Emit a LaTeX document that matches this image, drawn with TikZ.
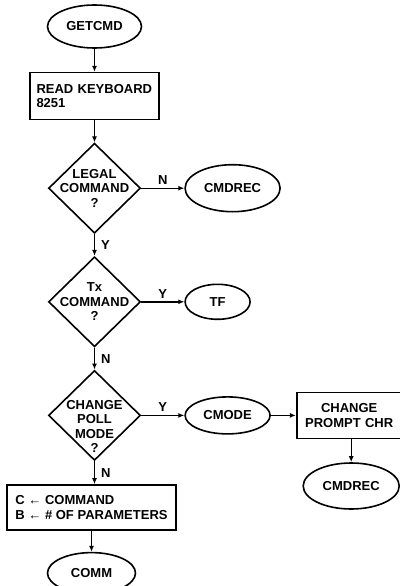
\documentclass[tikz,border=0pt]{standalone}
\usepackage{fontspec}
\setmainfont{Liberation Sans}
\usetikzlibrary{positioning,arrows.meta,shapes.geometric}
\newcommand{\chartfont}{\bfseries\fontsize{13}{14.5}\selectfont}

\begin{document}
\begin{tikzpicture}[x=1pt,y=-1pt,
  term/.style={ellipse,draw,line width=1.6pt,inner sep=0pt,minimum height=43pt,font=\chartfont},
  box/.style={rectangle,draw,line width=1.6pt,inner xsep=7pt,inner ysep=0pt,minimum height=46pt,font=\chartfont},
  dec/.style={diamond,draw,line width=1.6pt,inner sep=0pt,minimum width=92pt,minimum height=90pt},
  dectext/.style={font=\chartfont,align=center},
  arr/.style={-{Latex[length=6pt,width=5pt]},line width=1.4pt},
  lbl/.style={font=\chartfont,inner sep=2pt}]
\useasboundingbox (0,0) rectangle (399,586);
% main column
\node[term,minimum width=94pt] (getcmd) at (94.5,26.5) {GETCMD};
\node[box,below=23pt of getcmd,text width=116pt,inner xsep=6.5pt,align=left,minimum height=47pt] (readkbd) {READ KEYBOARD\\8251};
\node[dec,below=22pt of readkbd,label={[dectext]center:LEGAL\\COMMAND\\?}] (legal) {};
\node[dec,below=22pt of legal,label={[dectext]center:Tx\\COMMAND\\?}] (txcmd) {};
\node[dec,below=22pt of txcmd,label={[dectext,yshift=-11pt]center:CHANGE\\POLL\\MODE\\?}] (poll) {};
\node[box,below=23pt of poll,xshift=-3pt,align=left,minimum width=169pt,minimum height=45pt] (setcb) {C ← COMMAND\\B ← \# OF PARAMETERS};
\node[term,below=21pt of setcb,minimum width=88pt,minimum height=41pt] (comm) {COMM};
% right-hand branches
\node[term,right=43pt of legal,minimum width=95pt,minimum height=47pt] (cmdrec) {CMDREC};
\node[term,right=43pt of txcmd,minimum width=65pt,minimum height=35pt] (tf) {TF};
\node[term,right=43pt of poll,minimum width=85pt,minimum height=37pt] (cmode) {CMODE};
\node[box,right=25pt of cmode,text width=91pt,align=center] (prompt) {CHANGE\\PROMPT CHR};
\node[term,below=23pt of prompt,xshift=2pt,minimum width=96pt,minimum height=46pt] (cmdrecb) {CMDREC};
\draw[arr] (getcmd)--(readkbd); \draw[arr] (readkbd)--(legal);
\draw[arr] (legal)--node[lbl,right=4pt]{Y}(txcmd); \draw[arr] (legal)--node[lbl,above=1pt]{N}(cmdrec);
\draw[arr] (txcmd)--node[lbl,right=4pt]{N}(poll); \draw[arr] (txcmd)--node[lbl,above=1pt]{Y}(tf);
\draw[arr] (poll.south)--node[lbl,right=4pt]{N}(poll.south |- setcb.north); \draw[arr] (poll)--node[lbl,above=1pt]{Y}(cmode);
\draw[arr] (setcb)--(comm); \draw[arr] (cmode)--(prompt);
\draw[arr] (prompt.south -| cmdrecb.north)--(cmdrecb.north);
\end{tikzpicture}
\end{document}
